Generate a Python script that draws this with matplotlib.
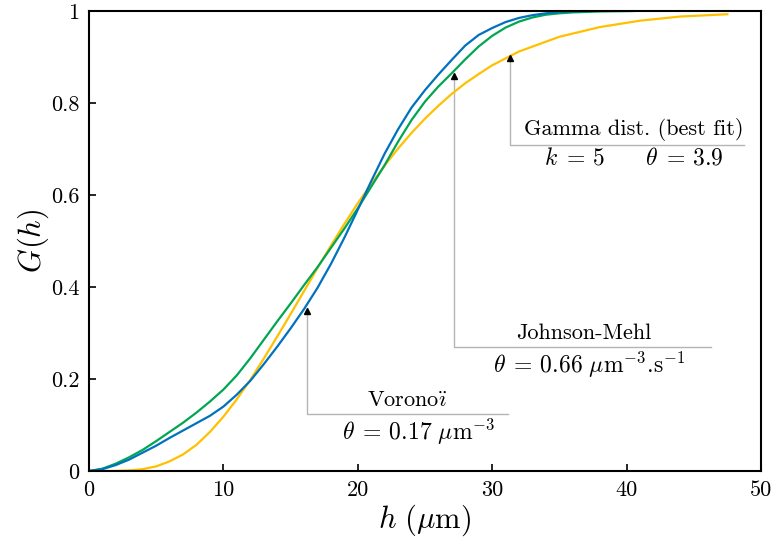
import matplotlib
matplotlib.use('Agg')
import matplotlib.pyplot as plt

plt.rcParams['font.family'] = 'serif'
plt.rcParams['font.serif'] = ['cmr10']
plt.rcParams['mathtext.fontset'] = 'cm'
plt.rcParams['axes.formatter.use_mathtext'] = True

# Voronoi tessellation (blue)
h_vor = [0, 1, 2, 3, 4, 5, 6, 7, 8, 9, 10, 11, 12, 13, 14, 15, 16, 17, 18, 19,
         20, 21, 22, 23, 24, 25, 26, 27, 28, 29, 30, 31, 32, 33, 34, 35, 36, 37]
g_vor = [0, 0.004, 0.013, 0.025, 0.04, 0.055, 0.072, 0.088, 0.104, 0.12, 0.14,
         0.166, 0.196, 0.232, 0.27, 0.31, 0.352, 0.398, 0.45, 0.507, 0.568,
         0.63, 0.69, 0.743, 0.79, 0.828, 0.862, 0.894, 0.925, 0.948, 0.963,
         0.976, 0.985, 0.991, 0.995, 0.998, 0.999, 1.0]

# Johnson-Mehl (green)
h_jm = [0, 1, 2, 3, 4, 5, 6, 7, 8, 9, 10, 11, 12, 13, 14, 15, 16, 17, 18, 19,
        20, 21, 22, 23, 24, 25, 26, 27, 28, 29, 30, 31, 32, 33, 34, 35, 36, 38, 40.5]
g_jm = [0, 0.005, 0.016, 0.03, 0.046, 0.065, 0.085, 0.105, 0.127, 0.151, 0.177,
        0.208, 0.245, 0.285, 0.325, 0.364, 0.404, 0.443, 0.485, 0.527, 0.571,
        0.618, 0.665, 0.716, 0.763, 0.803, 0.836, 0.865, 0.895, 0.923, 0.946,
        0.964, 0.977, 0.986, 0.992, 0.995, 0.997, 0.999, 1.0]

# Gamma distribution best fit (yellow)
h_gam = [0, 2, 3, 4, 5, 6, 7, 8, 9, 10, 11, 12, 13, 14, 15, 16, 17, 18, 19,
         20, 21, 22, 23, 24, 25, 26, 27, 28, 29, 30, 32, 35, 38, 41, 44, 47.5]
g_gam = [0, 0.0002, 0.0013, 0.004, 0.01, 0.021, 0.036, 0.057, 0.085, 0.118,
         0.156, 0.198, 0.244, 0.292, 0.341, 0.391, 0.441, 0.49, 0.537, 0.582,
         0.624, 0.664, 0.701, 0.735, 0.766, 0.794, 0.82, 0.843, 0.863, 0.882,
         0.912, 0.944, 0.965, 0.979, 0.988, 0.993]

x_ticks = [0, 10, 20, 30, 40, 50]
y_ticks = [0, 0.2, 0.4, 0.6, 0.8, 1]
y_labels = ['0', '0.2', '0.4', '0.6', '0.8', '1']

blue = '#0072BD'
green = '#00A651'
yellow = '#FFC000'

fig = plt.figure(figsize=(7.71, 5.37), dpi=100)
ax = fig.add_axes([0.1154, 0.1229, 0.8716, 0.8566])

ax.plot(h_gam, g_gam, color=yellow, lw=1.6)
ax.plot(h_jm, g_jm, color=green, lw=1.6)
ax.plot(h_vor, g_vor, color=blue, lw=1.6)

ax.set_xlim(0, 50)
ax.set_ylim(0, 1)
ax.set_xticks(x_ticks)
ax.set_xticklabels([str(t) for t in x_ticks])
ax.set_yticks(y_ticks)
ax.set_yticklabels(y_labels)
ax.tick_params(direction='in', length=5, width=1.2, labelsize=16, pad=7)
for s in ax.spines.values():
    s.set_linewidth(1.5)

ax.set_xlabel(r'$h\ (\mu\mathrm{m})$', fontsize=22, labelpad=2)
ax.set_ylabel(r'$G(h)$', fontsize=22, labelpad=0)


# annotations: tip on curve, corner height, end of underline, texts
def callout(tip, corner_y, end_x, top, top_x, bottom, bottom_x):
    ax.plot([tip[0], tip[0], end_x], [tip[1], corner_y, corner_y],
            color='#b4b4b4', lw=1, zorder=1)
    ax.plot(tip[0], tip[1] - 0.006, marker='^', color='black', ms=5, zorder=4)
    ax.text(top_x, corner_y + 0.008, top, fontsize=16, ha='center', va='bottom')
    ax.text(bottom_x, corner_y - 0.006, bottom, fontsize=17, ha='center', va='top')


callout((16.2, 0.354), 0.124, 31.2, r'Vorono$\mathrm{\ddot{\imath}}$', 23.7,
        r'$\theta\;=\,0.17\ \mu\mathrm{m}^{-3}$', 24.5)
callout((27.15, 0.865), 0.27, 46.3, 'Johnson-Mehl', 36.8,
        r'$\theta\;=\,0.66\ \mu\mathrm{m}^{-3}.\!\mathrm{s}^{-1}$', 37.2)
callout((31.3, 0.904), 0.709, 48.7, 'Gamma dist. (best fit)', 40.5,
        r'$k\;=\,5\qquad\theta\;=\,3.9$', 40.5)

fig.savefig('out.png', dpi=100)
